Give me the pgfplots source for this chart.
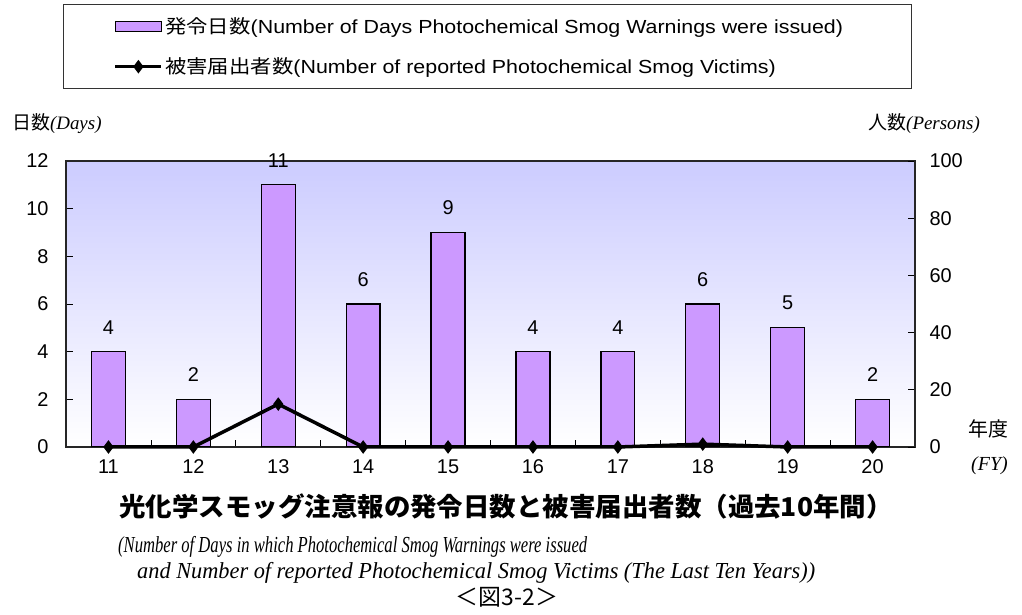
\documentclass[border=0pt]{standalone}
\usepackage{fontspec}
\usepackage{graphicx}
\setmainfont{Liberation Sans}
\newfontfamily\jp{Noto Sans CJK JP}
\newfontfamily\tms{Liberation Serif}
\usepackage{pgfplots}
\pgfplotsset{compat=1.18}
\definecolor{barcol}{HTML}{CC99FF}
\definecolor{bgtop}{HTML}{CCCCFF}
\pgfplotsset{
  mylinelegend/.style={legend image code/.code={\draw[mark repeat=2,mark phase=2,##1] plot coordinates {(0bp,0bp) (23bp,0bp) (46bp,0bp)};}},
  mybarlegend/.style={legend image code/.code={\draw[fill=barcol,draw=black,line width=1bp] (0bp,-5bp) rectangle (46bp,5bp);}},
}

\begin{document}
\begin{tikzpicture}[x=1bp,y=1bp]
\useasboundingbox (0,0) rectangle (1022,615);
\begin{axis}[
  at={(66bp,168bp)}, anchor=south west,
  scale only axis, width=849bp, height=286bp,
  xmin=10.5, xmax=20.5, ymin=0, ymax=12,
  ytick={0,2,...,12}, ytick pos=left,
  xtick={10.5,11.5,...,20.5}, xtick pos=bottom,
  x tick label as interval,
  xticklabels={11,12,13,14,15,16,17,18,19,20,},
  major tick length=7bp,
  tick style={black, line width=0.8bp},
  axis line style={black!85, line width=1.2bp},
  axis background/.style={top color=bgtop, bottom color=white},
  /pgf/number format/assume math mode=true,
  ticklabel style={font=\fontsize{20}{24}\selectfont},
  yticklabel style={xshift=-14bp},
  xticklabel style={yshift=-9bp},
]
\addplot[ybar, bar width=0.4, fill=barcol, draw=black, line width=1.3bp,
  nodes near coords,
  every node near coord/.append style={font=\fontsize{20}{24}\selectfont, anchor=south, inner sep=0pt, yshift=17bp}]
  coordinates {(11,4) (12,2) (13,11) (14,6) (15,9) (16,4) (17,4) (18,6) (19,5) (20,2)};
\end{axis}
\begin{axis}[
  at={(66bp,168bp)}, anchor=south west,
  scale only axis, width=849bp, height=286bp,
  xmin=10.5, xmax=20.5, ymin=0, ymax=100,
  axis x line=none, axis y line*=right,
  ytick={0,20,...,100},
  major tick length=7bp,
  tick style={black, line width=0.8bp},
  axis line style={black!85, line width=1.2bp},
  /pgf/number format/assume math mode=true,
  ticklabel style={font=\fontsize{20}{24}\selectfont},
  yticklabel style={xshift=11bp},
  clip=false,
  legend style={at={(-0.0035,1.549)}, anchor=north west, draw=black!80, line width=1.2bp,
    font=\fontsize{19}{22}\selectfont, row sep=19bp, inner ysep=11bp, inner xsep=50bp,
    cells={anchor=west}},
]
\addlegendimage{mybarlegend}
\addlegendentry{\scalebox{1.13}[1]{{\jp 発令日数}(Number of Days Photochemical Smog Warnings were issued)}\rule{16bp}{0pt}}
\addplot[black, line width=3.5bp, mark=diamond*, mark size=6bp, mark options={solid, line width=1bp}, mylinelegend]
  coordinates {(11,0) (12,0) (13,15) (14,0) (15,0) (16,0) (17,0) (18,1) (19,0) (20,0)};
\addlegendentry{\scalebox{1.13}[1]{{\jp 被害届出者数}(Number of reported Photochemical Smog Victims)}}
\end{axis}
\node[anchor=west, inner sep=0pt] at (12,491) {\fontsize{19}{22}\selectfont{\jp 日数}{\tms\itshape (Days)}};
\node[anchor=east, inner sep=0pt] at (980,491) {\fontsize{19}{22}\selectfont{\jp 人数}{\tms\itshape (Persons)}};
\node[anchor=west, inner sep=0pt] at (968,186) {\fontsize{20}{24}\selectfont\jp 年度};
\node[anchor=west, inner sep=0pt] at (971,149) {\fontsize{20}{24}\selectfont\tms\itshape (FY)};
\node[inner sep=0pt] at (506,108) {\resizebox{773bp}{\height}{\fontsize{26}{30}\selectfont\jp\bfseries 光化学スモッグ注意報の発令日数と被害届出者数（過去10年間）}};
\node[anchor=west, inner sep=0pt] at (118,68) {\resizebox{469bp}{\height}{\fontsize{23}{26}\selectfont\tms\itshape (Number of Days in which Photochemical Smog Warnings were issued}};
\node[anchor=west, inner sep=0pt] at (137,42) {\resizebox{678bp}{\height}{\fontsize{23}{26}\selectfont\tms\itshape and Number of reported Photochemical Smog Victims (The Last Ten Years))}};
\node[inner sep=0pt] at (507,18) {\fontsize{23}{26}\selectfont\jp ＜図3-2＞};
\end{tikzpicture}
\end{document}
